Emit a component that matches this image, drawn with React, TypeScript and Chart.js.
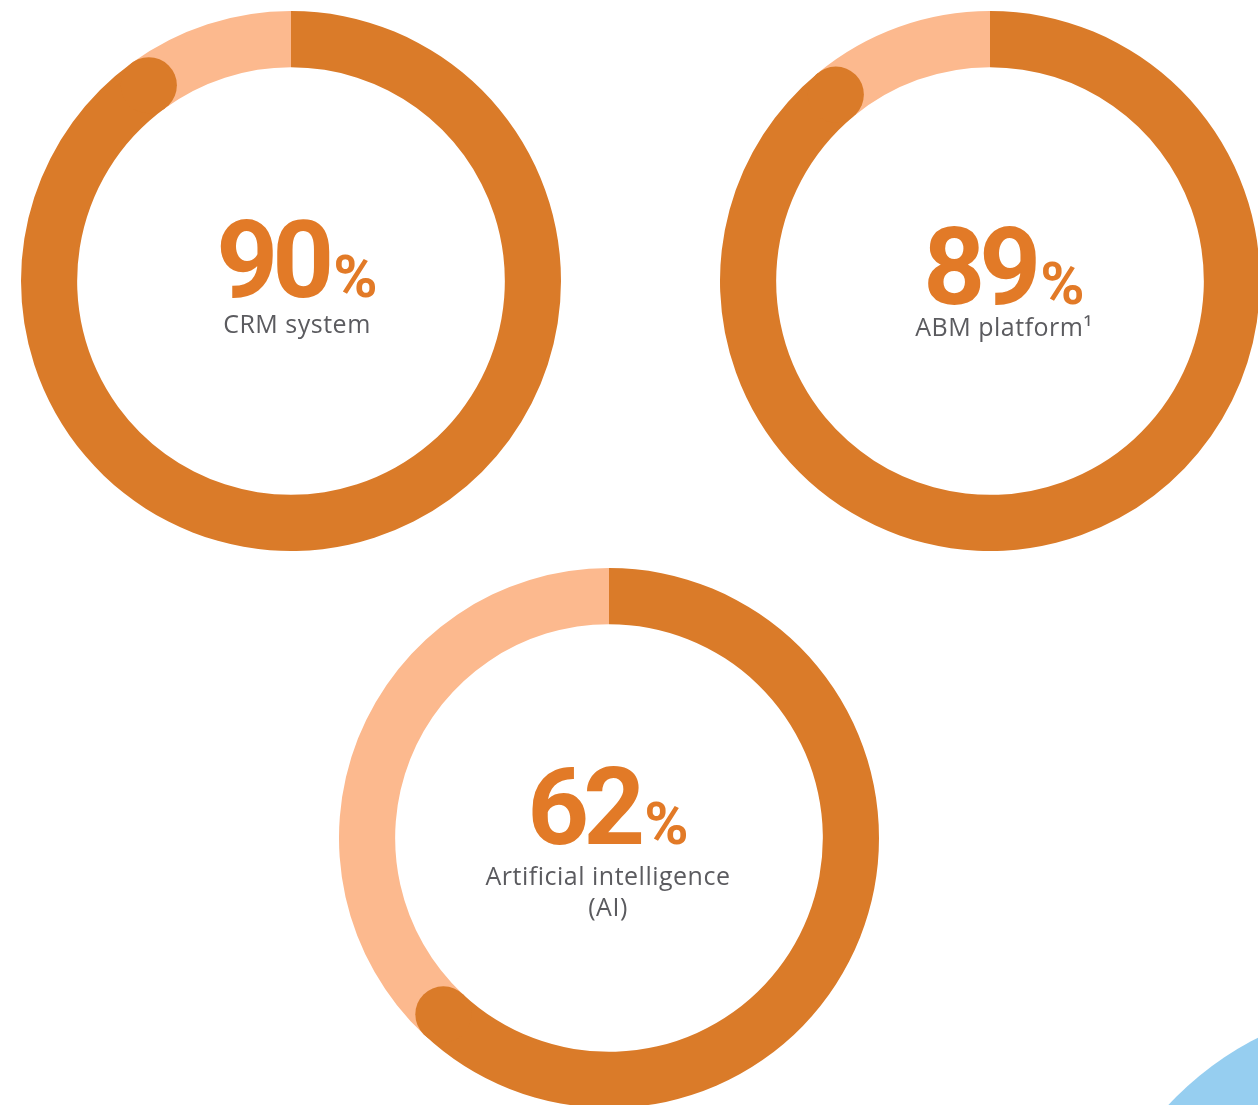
import React, { useEffect, useRef } from "react";
import { Chart, registerables } from "chart.js";

Chart.register(...registerables);

// ---- data ----
const categories = ["CRM system", "ABM platform¹", "Artificial intelligence (AI)"];
const labelLines = [["CRM system"], ["ABM platform¹"], ["Artificial intelligence", "(AI)"]];
const values = [90, 89, 62];
const segmentNames = ["Use", "Do not use"];

// ---- style ----
const DARK = "#DA7B29";
const LIGHT = "#FCB98E";
const NUM_COLOR = "#E27A27";
const LABEL_COLOR = "#5B5B5F";

const layouts = [
  { left: 21, top: 11, textX: 297, numBase: 297, labelBase: 332 },
  { left: 720, top: 11, textX: 1004, numBase: 304, labelBase: 335 },
  { left: 339, top: 568, textX: 608, numBase: 844, labelBase: 884 },
];

const SIZE = 540;
const NUM_FS = 108;
const PCT_FS = 60;
const LBL_FS = 25;
const LBL_LH = 31;

const capPlugin = {
  id: "roundCap",
  afterDatasetsDraw(chart: any) {
    const meta = chart.getDatasetMeta(0);
    const arc = meta.data[0];
    if (!arc) return;
    const p = arc.getProps(["x", "y", "endAngle", "innerRadius", "outerRadius"], true);
    const mid = (p.innerRadius + p.outerRadius) / 2;
    const r = (p.outerRadius - p.innerRadius) / 2;
    const ctx = chart.ctx;
    ctx.save();
    ctx.fillStyle = arc.options.backgroundColor;
    ctx.beginPath();
    ctx.arc(p.x + mid * Math.cos(p.endAngle), p.y + mid * Math.sin(p.endAngle), r, 0, Math.PI * 2);
    ctx.fill();
    ctx.restore();
  },
};

function Donut({ index }: { index: number }) {
  const ref = useRef<HTMLCanvasElement | null>(null);
  useEffect(() => {
    if (!ref.current) return;
    const v = values[index];
    const chart = new Chart(ref.current, {
      type: "doughnut",
      data: {
        labels: segmentNames,
        datasets: [
          {
            label: categories[index],
            data: [v, 100 - v],
            backgroundColor: [DARK, LIGHT],
            borderWidth: 0,
          },
        ],
      },
      options: {
        responsive: false,
        animation: false,
        cutout: "79.2%",
        rotation: 0,
        events: [],
        layout: { padding: 0 },
        plugins: { legend: { display: false }, tooltip: { enabled: false } },
      },
      plugins: [capPlugin],
    } as any);
    return () => chart.destroy();
  }, [index]);
  const L = layouts[index];
  return (
    <>
      <canvas
        ref={ref}
        width={SIZE}
        height={SIZE}
        style={{ position: "absolute", left: L.left, top: L.top, width: SIZE, height: SIZE }}
      />
      <div
        style={{
          position: "absolute",
          left: L.textX - 250,
          width: 500,
          top: L.numBase - Math.round(NUM_FS * 0.8418),
          textAlign: "center",
          fontFamily: "Roboto, sans-serif",
          fontWeight: 700,
          fontSize: NUM_FS,
          lineHeight: `${NUM_FS}px`,
          color: NUM_COLOR,
          whiteSpace: "nowrap",
        }}
      >
        <span style={{ letterSpacing: -6 }}>{values[index]}</span>
        <span style={{ fontSize: PCT_FS, letterSpacing: 0, marginLeft: 5 }}>%</span>
      </div>
      <div
        style={{
          position: "absolute",
          left: L.textX - 250,
          width: 500,
          top: L.labelBase - 24,
          textAlign: "center",
          fontFamily: "'Open Sans', sans-serif",
          fontSize: LBL_FS,
          lineHeight: `${LBL_LH}px`,
          color: LABEL_COLOR,
          letterSpacing: 0.5,
        }}
      >
        {labelLines[index].map((t, i) => (
          <div key={i}>{t}</div>
        ))}
      </div>
    </>
  );
}

export default function App() {
  return (
    <div
      style={{
        position: "absolute",
        left: 0,
        top: 0,
        width: 1258,
        height: 1105,
        overflow: "hidden",
        background: "#FFFFFF",
      }}
    >
      <div
        style={{
          position: "absolute",
          left: 1400 - 316,
          top: 1320 - 316,
          width: 632,
          height: 632,
          borderRadius: "50%",
          background: "#96CEF0",
        }}
      />
      {values.map((_, i) => (
        <Donut key={i} index={i} />
      ))}
    </div>
  );
}
